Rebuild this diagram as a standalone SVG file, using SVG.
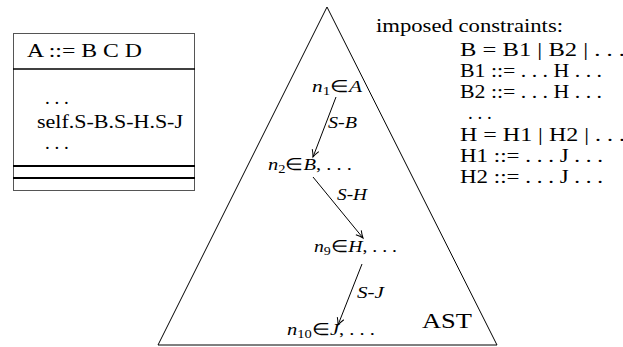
<svg xmlns="http://www.w3.org/2000/svg" width="623" height="347" viewBox="0 0 623 347">
<defs>
<style>
.t{font-family:"Liberation Serif",serif;font-size:19px;fill:#000}
.m{font-family:"Liberation Serif",serif;font-size:17px;fill:#000}
.i{font-style:italic}
.sub{font-size:12px}
.edge{stroke:#000;stroke-width:1;fill:none}
</style>
<marker id="ah" viewBox="-8 -5 10 10" markerWidth="10" markerHeight="10" refX="0" refY="0" orient="auto" markerUnits="userSpaceOnUse">
<path d="M-7,-3.5 Q-3,-1 0,0 Q-3,1 -7,3.5" stroke="#000" stroke-width="1" fill="none"/>
</marker>
</defs>
<rect width="623" height="347" fill="#fff"/>

<g id="classbox">
<rect x="13.5" y="33.5" width="181" height="157" fill="none" stroke="#555" stroke-width="1"/>
<line x1="13" y1="69" x2="195" y2="69" stroke="#000" stroke-width="1.3"/>
<line x1="13" y1="166" x2="195" y2="166" stroke="#000" stroke-width="2"/>
<line x1="13" y1="178" x2="195" y2="178" stroke="#000" stroke-width="2"/>
<text class="t" x="27" y="57" textLength="115" lengthAdjust="spacingAndGlyphs">A ::= B C D</text>
<text class="t" x="45" y="104">. . .</text>
<text class="t" x="37" y="128" textLength="146" lengthAdjust="spacingAndGlyphs">self.S-B.S-H.S-J</text>
<text class="t" x="45" y="149">. . .</text>
</g>

<g id="ast">
<polygon points="327,7 158,345 497,345" fill="none" stroke="#000" stroke-width="1"/>
<text class="t" x="422" y="328" textLength="50" lengthAdjust="spacingAndGlyphs" style="font-size:22px">AST</text>
</g>

<g id="constraints">
<text class="t" x="376" y="32" textLength="187" lengthAdjust="spacingAndGlyphs">imposed constraints:</text>
<text class="t" x="460" y="56" textLength="165" lengthAdjust="spacingAndGlyphs">B = B1 | B2 | . . .</text>
<text class="t" x="460" y="77" textLength="142" lengthAdjust="spacingAndGlyphs">B1 ::= . . .  H . . .</text>
<text class="t" x="460" y="98" textLength="142" lengthAdjust="spacingAndGlyphs">B2 ::= . . .  H . . .</text>
<text class="t" x="468" y="119">. . .</text>
<text class="t" x="460" y="141" textLength="165" lengthAdjust="spacingAndGlyphs">H = H1 | H2 | . . .</text>
<text class="t" x="460" y="162" textLength="143" lengthAdjust="spacingAndGlyphs">H1 ::= . . .  J . . .</text>
<text class="t" x="460" y="183" textLength="143" lengthAdjust="spacingAndGlyphs">H2 ::= . . .  J . . .</text>
</g>

<g id="n1">
<text class="m" x="312" y="92" textLength="50" lengthAdjust="spacingAndGlyphs"><tspan class="i">n</tspan><tspan class="sub" dy="3">1</tspan><tspan dy="-3">∈</tspan><tspan class="i">A</tspan></text>
</g>
<g id="n2">
<text class="m" x="268" y="170" textLength="84" lengthAdjust="spacingAndGlyphs"><tspan class="i">n</tspan><tspan class="sub" dy="3">2</tspan><tspan dy="-3">∈</tspan><tspan class="i">B</tspan>, . . .</text>
</g>
<g id="n9">
<text class="m" x="314" y="252" textLength="83" lengthAdjust="spacingAndGlyphs"><tspan class="i">n</tspan><tspan class="sub" dy="3">9</tspan><tspan dy="-3">∈</tspan><tspan class="i">H</tspan>, . . .</text>
</g>
<g id="n10">
<text class="m" x="287" y="335" textLength="88" lengthAdjust="spacingAndGlyphs"><tspan class="i">n</tspan><tspan class="sub" dy="3">10</tspan><tspan dy="-3">∈</tspan><tspan class="i">J</tspan>, . . .</text>
</g>

<g id="connectors">
<line class="edge" x1="336" y1="97" x2="313" y2="157" marker-end="url(#ah)"/>
<line class="edge" x1="313" y1="177" x2="363" y2="238" marker-end="url(#ah)"/>
<line class="edge" x1="362" y1="264" x2="338" y2="325" marker-end="url(#ah)"/>
<text class="m i" x="328" y="128" textLength="29" lengthAdjust="spacingAndGlyphs">S-B</text>
<text class="m i" x="337" y="200" textLength="30" lengthAdjust="spacingAndGlyphs">S-H</text>
<text class="m i" x="357" y="298" textLength="27" lengthAdjust="spacingAndGlyphs">S-J</text>
</g>
</svg>
